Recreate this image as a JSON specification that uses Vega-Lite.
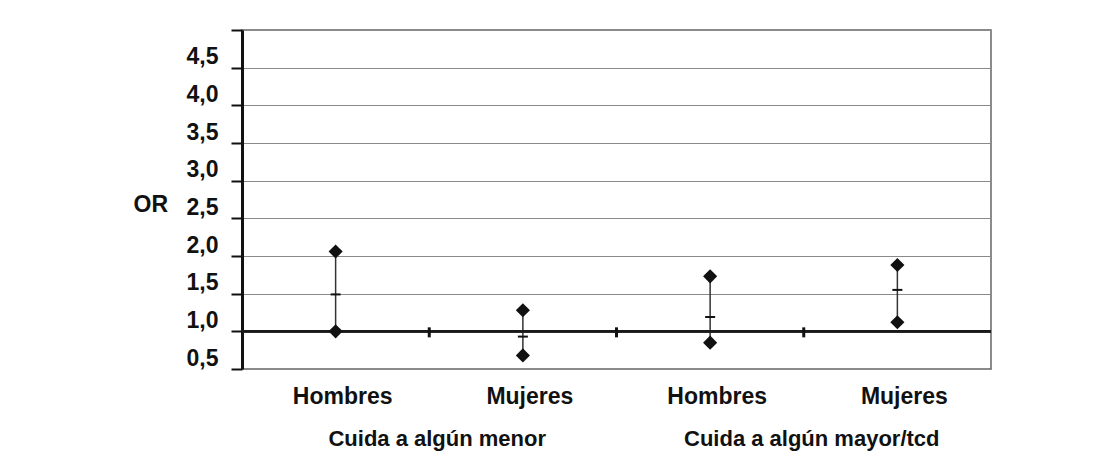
{
  "$schema": "https://vega.github.io/schema/vega-lite/v6.json",
  "autosize": {"type": "none"},
  "padding": {"left": 242, "top": 30, "right": 108, "bottom": 83},
  "width": 749,
  "height": 339,
  "background": "white",
  "config": {
    "view": {"stroke": "#666666", "strokeWidth": 1.5},
    "font": "Liberation Sans",
    "locale": {"number": {"decimal": ",", "thousands": ".", "grouping": [3], "currency": ["", " €"]}},
    "axis": {"labelFont": "Liberation Sans", "titleFont": "Liberation Sans", "labelColor": "#111111", "titleColor": "#111111"},
    "axisY": {"labelOverlap": false}
  },
  "data": {"values": [
    {"grupo": "Cuida a algún menor", "sexo": "Hombres", "id": "menor|Hombres", "or": 1.49, "lo": 1.0, "hi": 2.06},
    {"grupo": "Cuida a algún menor", "sexo": "Mujeres", "id": "menor|Mujeres", "or": 0.93, "lo": 0.68, "hi": 1.28},
    {"grupo": "Cuida a algún mayor/tcd", "sexo": "Hombres", "id": "mayor|Hombres", "or": 1.19, "lo": 0.85, "hi": 1.73},
    {"grupo": "Cuida a algún mayor/tcd", "sexo": "Mujeres", "id": "mayor|Mujeres", "or": 1.55, "lo": 1.12, "hi": 1.88}
  ]},
  "resolve": {"scale": {"x": "independent"}},
  "layer": [
    {
      "layer": [
        {
          "mark": {"type": "rule", "color": "#333333", "strokeWidth": 1.5},
          "encoding": {
            "x": {
              "field": "id", "type": "nominal", "sort": null,
              "scale": {"type": "band", "paddingInner": 0, "paddingOuter": 0},
              "axis": {
                "orient": "bottom", "title": null, "domain": false, "ticks": false, "tickSize": 0, "grid": false,
                "labelAngle": 0, "labelFontSize": 23, "labelFontWeight": "bold", "labelPadding": 16, "labelOffset": 7,
                "labelExpr": "split(datum.value, '|')[1]"
              }
            },
            "y": {
              "field": "lo", "type": "quantitative",
              "scale": {"domain": [0.5, 5], "nice": false, "zero": false},
              "axis": {
                "title": "OR", "titleAngle": 0, "titleFontSize": 23, "titleFontWeight": "bold",
                "titleAlign": "left", "titleBaseline": "middle", "titleX": -109, "titleY": 174,
                "values": [0.5, 1, 1.5, 2, 2.5, 3, 3.5, 4, 4.5, 5],
                "tickCount": 20,
                "format": ".1f",
                "labelExpr": "datum.value >= 5 ? '' : datum.label",
                "labelOverlap": false,
                "labelFontSize": 23, "labelFontWeight": "bold", "labelPadding": 13, "labelOffset": -11,
                "domainColor": "#111111", "domainWidth": 3,
                "tickColor": "#111111", "tickWidth": 2, "tickSize": 11,
                "grid": true, "gridColor": "#8a8a8a", "gridWidth": 1
              }
            },
            "y2": {"field": "hi"}
          }
        },
        {
          "mark": {"type": "rule", "color": "#1a1a1a", "strokeWidth": 2.5},
          "encoding": {"y": {"datum": 1}}
        },
        {
          "mark": {"type": "point", "shape": "diamond", "filled": true, "size": 200, "color": "#111111", "opacity": 1},
          "encoding": {
            "x": {"field": "id", "type": "nominal", "sort": null},
            "y": {"field": "lo", "type": "quantitative"}
          }
        },
        {
          "mark": {"type": "point", "shape": "diamond", "filled": true, "size": 200, "color": "#111111", "opacity": 1},
          "encoding": {
            "x": {"field": "id", "type": "nominal", "sort": null},
            "y": {"field": "hi", "type": "quantitative"}
          }
        },
        {
          "mark": {"type": "tick", "orient": "horizontal", "size": 10, "thickness": 2, "color": "#111111", "opacity": 1},
          "encoding": {
            "x": {"field": "id", "type": "nominal", "sort": null},
            "y": {"field": "or", "type": "quantitative"}
          }
        },
        {
          "transform": [{"filter": "datum.id != 'menor|Hombres'"}],
          "mark": {"type": "tick", "orient": "vertical", "size": 10, "thickness": 3, "color": "#111111", "opacity": 1},
          "encoding": {
            "x": {"field": "id", "type": "nominal", "sort": null, "bandPosition": 0},
            "y": {"datum": 1},
            "yOffset": {"value": 1}
          }
        }
      ]
    },
    {
      "mark": {"type": "tick", "opacity": 0},
      "encoding": {
        "x": {
          "field": "grupo", "type": "nominal", "sort": null,
          "scale": {"type": "band", "paddingInner": 0, "paddingOuter": 0},
          "axis": {
            "orient": "bottom", "title": null, "domain": false, "ticks": false, "tickSize": 0, "grid": false,
            "labelAngle": 0, "labelFontSize": 22, "labelFontWeight": "bold", "labelPadding": 59, "labelLimit": 0, "labelOffset": 8
          }
        },
        "y": {"datum": 1}
      }
    }
  ]
}
